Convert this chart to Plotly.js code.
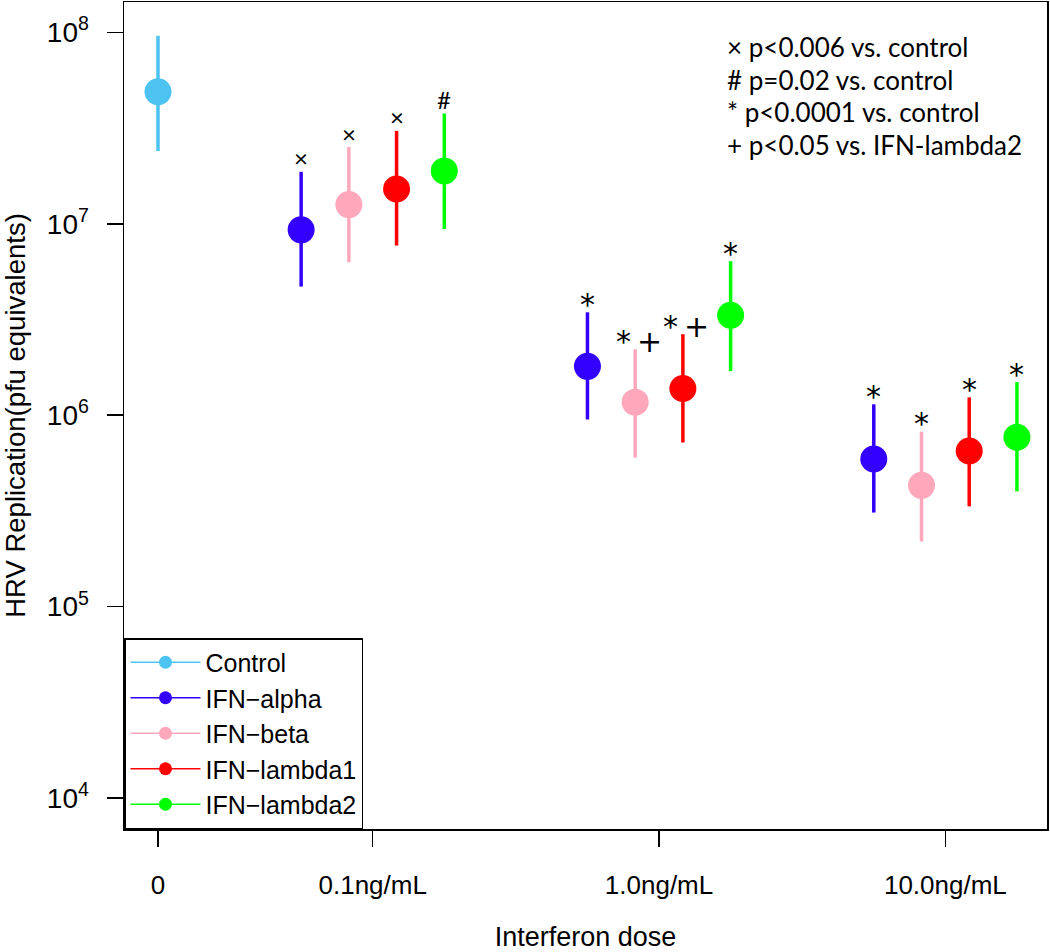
<!DOCTYPE html>
<html>
<head>
<meta charset="utf-8">
<script src="https://cdn.plot.ly/plotly-3.0.1.min.js"></script>
<style>
  html, body { margin: 0; padding: 0; background: #fff; }
  #chart { width: 1050px; height: 952px; }
</style>
</head>
<body>
<div id="chart"></div>
<script>
// ---------------- data ----------------
const doseLabels = ['0', '0.1ng/mL', '1.0ng/mL', '10.0ng/mL'];
const doseAxisPos = [0, 0.75, 1.75, 2.75];

const seriesNames = ['Control', 'IFN\u2212alpha', 'IFN\u2212beta', 'IFN\u2212lambda1', 'IFN\u2212lambda2'];
const seriesColors = ['#4cc3f0', '#3300ff', '#ffa8bc', '#ff0000', '#00ff00'];
const seriesOffset = [0, -0.25, -0.0833, 0.0833, 0.25];

// dose index of each point
const controlDose = [0];
const ifnDose = [1, 2, 3];

// HRV replication (pfu equivalents): central value, lower and upper bar ends
const controlMean = [4.9e7];
const controlLow  = [2.4e7];
const controlHigh = [9.6e7];

const alphaMean = [9.3e6, 1.80e6, 5.9e5];
const alphaLow  = [4.7e6, 9.5e5, 3.1e5];
const alphaHigh = [1.87e7, 3.45e6, 1.14e6];

const betaMean = [1.26e7, 1.17e6, 4.3e5];
const betaLow  = [6.3e6, 6.0e5, 2.19e5];
const betaHigh = [2.52e7, 2.21e6, 8.2e5];

const lambda1Mean = [1.52e7, 1.38e6, 6.5e5];
const lambda1Low  = [7.7e6, 7.2e5, 3.34e5];
const lambda1High = [3.06e7, 2.65e6, 1.24e6];

const lambda2Mean = [1.89e7, 3.33e6, 7.67e5];
const lambda2Low  = [9.4e6, 1.70e6, 4.0e5];
const lambda2High = [3.77e7, 6.38e6, 1.49e6];

// significance marks above each bar
const controlSig = [''];
const alphaSig   = ['\u00d7', '*', '*'];
const betaSig    = ['\u00d7', '* +', '*'];
const lambda1Sig = ['\u00d7', '* +', '*'];
const lambda2Sig = ['#', '*', '*'];

const yTickVals = [1e4, 1e5, 1e6, 1e7, 1e8];
const yTickText = ['10<sup>4</sup>', '10<sup>5</sup>', '10<sup>6</sup>', '10<sup>7</sup>', '10<sup>8</sup>'];

const noteLines = [
  '\u00d7 p<0.006 vs. control',
  '# p=0.02 vs. control',
  '* p<0.0001 vs. control',
  '+ p<0.05 vs. IFN-lambda2'
];

// ---------------- build ----------------
const series = [
  {dose: controlDose, mean: controlMean, low: controlLow, high: controlHigh, sig: controlSig},
  {dose: ifnDose, mean: alphaMean, low: alphaLow, high: alphaHigh, sig: alphaSig},
  {dose: ifnDose, mean: betaMean, low: betaLow, high: betaHigh, sig: betaSig},
  {dose: ifnDose, mean: lambda1Mean, low: lambda1Low, high: lambda1High, sig: lambda1Sig},
  {dose: ifnDose, mean: lambda2Mean, low: lambda2Low, high: lambda2High, sig: lambda2Sig}
];

const RFONT = 'Liberation Sans, Arial, Helvetica, sans-serif';
const NFONT = 'Lato, Carlito, Calibri, Open Sans, sans-serif';
const SFONT = 'DejaVu Sans, Liberation Sans, sans-serif';

const traces = [];
const annotations = [];

series.forEach((s, i) => {
  const xs = s.dose.map(d => doseAxisPos[d] + seriesOffset[i]);
  traces.push({
    type: 'scatter',
    mode: 'markers',
    x: xs,
    y: s.mean,
    showlegend: false,
    hoverinfo: 'skip',
    marker: {color: seriesColors[i], size: 27, line: {width: 0}},
    error_y: {
      type: 'data',
      symmetric: false,
      array: s.high.map((h, k) => h - s.mean[k]),
      arrayminus: s.low.map((l, k) => s.mean[k] - l),
      color: seriesColors[i],
      thickness: 3.5,
      width: 0
    }
  });
  s.sig.forEach((t, k) => {
    if (!t) return;
    const big = t.indexOf('*') >= 0;
    annotations.push({
      x: xs[k] + (t.length > 1 ? 0.012 : 0),
      y: Math.log10(s.high[k]),
      xref: 'x', yref: 'y',
      text: big ? t.replace(' ', '\u2009') : t,
      showarrow: false,
      xanchor: 'center', yanchor: 'middle',
      yshift: big ? 8 : 14,
      font: {family: big ? SFONT : NFONT, size: big ? 30 : 24, color: '#000'}
    });
  });
});

// legend-only traces (line + marker symbol, like R's legend)
seriesNames.forEach((n, i) => {
  traces.push({
    type: 'scatter',
    mode: 'lines+markers',
    x: [null], y: [null],
    name: n,
    hoverinfo: 'skip',
    line: {color: seriesColors[i], width: 1.5},
    marker: {color: seriesColors[i], size: 13}
  });
});

const noteY = [0.946, 0.906, 0.8675, 0.8276];
noteLines.forEach((t, i) => {
  annotations.push({
    xref: 'paper', yref: 'paper',
    x: 0.6508, y: noteY[i],
    xanchor: 'left', yanchor: 'middle',
    text: t.replace(/</g, '&lt;'),
    showarrow: false,
    font: {family: NFONT, size: 26, color: '#000'}
  });
});

const layout = {
  width: 1050,
  height: 952,
  margin: {l: 124, r: 3, t: 2, b: 123},
  paper_bgcolor: '#fff',
  plot_bgcolor: '#fff',
  font: {family: RFONT, size: 25, color: '#000'},
  showlegend: true,
  legend: {
    x: 0, y: 0, xanchor: 'left', yanchor: 'bottom',
    xref: 'paper', yref: 'paper',
    bgcolor: '#fff',
    bordercolor: '#000',
    borderwidth: 1.5,
    itemwidth: 70,
    font: {family: RFONT, size: 25, color: '#000'},
    tracegroupgap: 0
  },
  xaxis: {
    range: [-0.1187, 3.105],
    tickmode: 'array',
    tickvals: doseAxisPos,
    ticktext: doseLabels,
    ticks: 'outside',
    ticklen: 16,
    tickwidth: 1.5,
    tickcolor: '#000',
    ticklabelstandoff: 16,
    showline: true,
    linecolor: '#000',
    linewidth: 1.5,
    mirror: true,
    showgrid: false,
    zeroline: false,
    tickfont: {family: RFONT, size: 26, color: '#000'},
    title: {text: 'Interferon dose', standoff: 44, font: {family: RFONT, size: 27, color: '#000'}}
  },
  yaxis: {
    type: 'log',
    range: [3.838, 8.159],
    tickmode: 'array',
    tickvals: yTickVals,
    ticktext: yTickText,
    ticks: 'outside',
    ticklen: 16,
    tickwidth: 1.5,
    tickcolor: '#000',
    ticklabelstandoff: 12,
    showline: true,
    linecolor: '#000',
    linewidth: 1.5,
    mirror: true,
    showgrid: false,
    zeroline: false,
    tickfont: {family: RFONT, size: 28, color: '#000'},
    title: {text: 'HRV Replication(pfu equivalents)', standoff: 20, font: {family: RFONT, size: 27.5, color: '#000'}}
  },
  annotations: annotations
};

Plotly.newPlot('chart', traces, layout, {displayModeBar: false, staticPlot: true});
</script>
</body>
</html>
